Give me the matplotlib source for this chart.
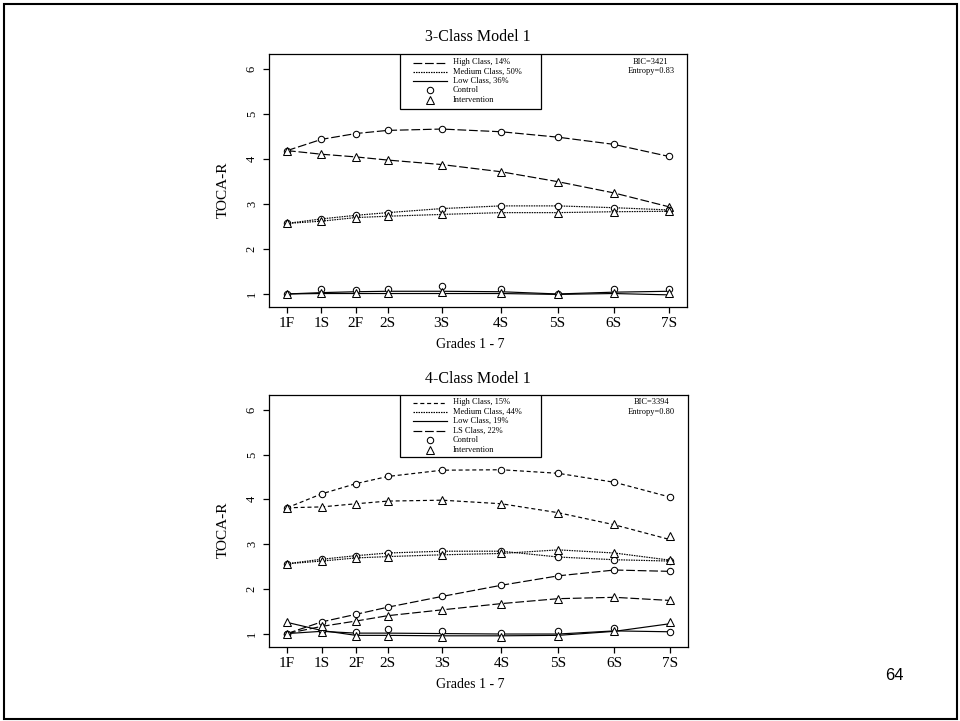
import matplotlib
matplotlib.use("Agg")
import matplotlib.pyplot as plt
from matplotlib.patches import Rectangle

plt.rcParams.update({
    "font.family": ["Liberation Serif", "DejaVu Serif"],
    "lines.scale_dashes": False,
    "axes.linewidth": 0.9,
})

W, H = 960, 721

grade_labels = ["1F", "1S", "2F", "2S", "3S", "4S", "5S", "6S", "7S"]
grade_pos = [1.0, 1.54, 2.08, 2.58, 3.43, 4.36, 5.25, 6.13, 7.0]
y_ticks = [1, 2, 3, 4, 5, 6]

# 3-class model
m3_high_ctrl = [4.18, 4.43, 4.56, 4.63, 4.66, 4.60, 4.48, 4.32, 4.05]
m3_high_int = [4.18, 4.10, 4.04, 3.97, 3.87, 3.71, 3.49, 3.24, 2.93]
m3_med_ctrl = [2.56, 2.66, 2.74, 2.80, 2.89, 2.95, 2.95, 2.91, 2.86]
m3_med_int = [2.56, 2.61, 2.69, 2.72, 2.76, 2.80, 2.80, 2.82, 2.83]
m3_low_ctrl_line = [0.99, 1.02, 1.04, 1.05, 1.05, 1.04, 0.99, 1.03, 1.05]
m3_low_int_line = [0.99, 1.00, 1.00, 1.00, 1.00, 1.00, 0.98, 1.00, 0.97]
m3_low_ctrl_obs = [1.00, 1.09, 1.08, 1.11, 1.17, 1.09, 1.00, 1.09, 1.09]
m3_low_int_obs = [1.00, 1.01, 1.02, 1.01, 1.03, 1.01, 0.99, 1.01, 1.01]

# 4-class model
m4_high_ctrl = [3.81, 4.12, 4.35, 4.51, 4.65, 4.66, 4.58, 4.38, 4.05]
m4_high_int_line = [3.81, 3.83, 3.90, 3.96, 3.98, 3.90, 3.70, 3.43, 3.10]
m4_high_int_obs = [3.81, 3.83, 3.90, 3.96, 3.98, 3.90, 3.70, 3.44, 3.17]
m4_med_ctrl = [2.56, 2.66, 2.74, 2.80, 2.84, 2.84, 2.71, 2.65, 2.62]
m4_med_int = [2.56, 2.62, 2.69, 2.72, 2.76, 2.79, 2.87, 2.80, 2.64]
m4_low_ctrl_line = [1.00, 1.05, 1.01, 1.01, 1.00, 0.99, 0.99, 1.06, 1.04]
m4_low_int_line = [1.25, 1.07, 0.96, 0.96, 0.95, 0.95, 0.96, 1.05, 1.22]
m4_low_ctrl_obs = [1.00, 1.05, 1.04, 1.10, 1.05, 1.01, 1.05, 1.12, 1.04]
m4_low_int_obs = [1.25, 1.04, 0.95, 0.94, 0.92, 0.93, 0.95, 1.06, 1.25]
m4_ls_ctrl = [1.00, 1.26, 1.43, 1.59, 1.83, 2.08, 2.29, 2.42, 2.39]
m4_ls_int = [1.00, 1.16, 1.28, 1.40, 1.53, 1.67, 1.78, 1.81, 1.74]

LONGDASH = (0, (6.3, 2.0))
DASHED = (0, (2.9, 2.0))
DOTTED = (0, (1.1, 0.7))
SOLID = "-"

MK = dict(color="black", markerfacecolor="white", markeredgecolor="black",
          markeredgewidth=0.75)


def fig_xy(px, py):
    return px / W, 1 - py / H


def add_axes(box):
    l, t, r, b = box
    return plt.gcf().add_axes([l / W, 1 - b / H, (r - l) / W, (b - t) / H])


def draw_series(ax, line_vals, obs_vals, ls, marker, ms):
    ax.plot(grade_pos, line_vals, ls=ls, color="black", lw=0.85, zorder=2)
    ax.plot(grade_pos, obs_vals, ls="none", marker=marker, markersize=ms, zorder=3, **MK)


def draw_legend(ax, box, leg_bottom, rows, row_y):
    l, t, r, b = box
    ax_x = lambda px: (px - l) / (r - l)
    ax_y = lambda py: (b - py) / (b - t)
    ax.add_patch(Rectangle((ax_x(400), ax_y(leg_bottom)), ax_x(541) - ax_x(400),
                           ax_y(t) - ax_y(leg_bottom), transform=ax.transAxes,
                           facecolor="white", edgecolor="black", lw=0.9, zorder=5))
    for (label, ls, marker, ms), py in zip(rows, row_y):
        y = ax_y(py)
        if ls is not None:
            ax.plot([ax_x(413), ax_x(447)], [y, y], transform=ax.transAxes,
                    ls=ls, color="black", lw=0.85, zorder=6, clip_on=False)
        else:
            ax.plot([ax_x(430)], [y], transform=ax.transAxes, ls="none",
                    marker=marker, markersize=ms, zorder=6, clip_on=False, **MK)
        ax.text(ax_x(453), y, label, transform=ax.transAxes, fontsize=6,
                ha="left", va="center", zorder=7)


def style_axes(ax):
    ax.set_xlim(0.717, 7.283)
    ax.set_ylim(0.70, 6.33)
    ax.set_xticks(grade_pos, grade_labels)
    ax.set_yticks(y_ticks, [str(v) for v in y_ticks])
    ax.tick_params(axis="x", direction="out", length=4, width=0.9, labelsize=11, pad=3)
    ax.tick_params(axis="y", direction="out", length=4, width=0.9, labelsize=9, pad=4,
                   labelrotation=90)
    for lab in ax.get_yticklabels():
        lab.set_va("center")
    for sp in ax.spines.values():
        sp.set_color("black")


fig = plt.figure(figsize=(9.6, 7.21), dpi=100)

# ---- 3-class panel
box3 = (269, 54, 687, 307)
ax1 = add_axes(box3)
draw_series(ax1, m3_high_ctrl, m3_high_ctrl, LONGDASH, "o", 4.6)
draw_series(ax1, m3_high_int, m3_high_int, LONGDASH, "^", 5.6)
draw_series(ax1, m3_med_ctrl, m3_med_ctrl, DOTTED, "o", 4.6)
draw_series(ax1, m3_med_int, m3_med_int, DOTTED, "^", 5.6)
draw_series(ax1, m3_low_ctrl_line, m3_low_ctrl_obs, SOLID, "o", 4.6)
draw_series(ax1, m3_low_int_line, m3_low_int_obs, SOLID, "^", 5.6)
style_axes(ax1)
draw_legend(ax1, box3, 109, [
    ("High Class, 14%", LONGDASH, None, 0),
    ("Medium Class, 50%", DOTTED, None, 0),
    ("Low Class, 36%", SOLID, None, 0),
    ("Control", None, "o", 4.6),
    ("Intervention", None, "^", 5.6),
], [62.5, 71.5, 81, 90, 99.5])
fig.text(*fig_xy(651, 62.3), "BIC=3421", fontsize=6, ha="center", va="center")
fig.text(*fig_xy(651, 71), "Entropy=0.83", fontsize=6, ha="center", va="center")
fig.text(*fig_xy(478, 37), "3-Class Model 1", fontsize=11.5, ha="center", va="center")
fig.text(*fig_xy(470.7, 344), "Grades 1 - 7", fontsize=10, ha="center", va="center")
fig.text(*fig_xy(223.3, 190), "TOCA-R", fontsize=11, ha="center", va="center", rotation=90)

# ---- 4-class panel
box4 = (269, 395, 688, 647)
ax2 = add_axes(box4)
draw_series(ax2, m4_high_ctrl, m4_high_ctrl, DASHED, "o", 4.6)
draw_series(ax2, m4_high_int_line, m4_high_int_obs, DASHED, "^", 5.6)
draw_series(ax2, m4_med_ctrl, m4_med_ctrl, DOTTED, "o", 4.6)
draw_series(ax2, m4_med_int, m4_med_int, DOTTED, "^", 5.6)
draw_series(ax2, m4_low_ctrl_line, m4_low_ctrl_obs, SOLID, "o", 4.6)
draw_series(ax2, m4_low_int_line, m4_low_int_obs, SOLID, "^", 5.6)
draw_series(ax2, m4_ls_ctrl, m4_ls_ctrl, LONGDASH, "o", 4.6)
draw_series(ax2, m4_ls_int, m4_ls_int, LONGDASH, "^", 5.6)
style_axes(ax2)
draw_legend(ax2, box4, 457, [
    ("High Class, 15%", DASHED, None, 0),
    ("Medium Class, 44%", DOTTED, None, 0),
    ("Low Class, 19%", SOLID, None, 0),
    ("LS Class, 22%", LONGDASH, None, 0),
    ("Control", None, "o", 4.6),
    ("Intervention", None, "^", 5.6),
], [402.5, 411.5, 421, 430.5, 440, 449.5])
fig.text(*fig_xy(651.7, 402.3), "BIC=3394", fontsize=6, ha="center", va="center")
fig.text(*fig_xy(651.7, 411.7), "Entropy=0.80", fontsize=6, ha="center", va="center")
fig.text(*fig_xy(478, 379), "4-Class Model 1", fontsize=11.5, ha="center", va="center")
fig.text(*fig_xy(470.7, 685), "Grades 1 - 7", fontsize=10, ha="center", va="center")
fig.text(*fig_xy(223.3, 530), "TOCA-R", fontsize=11, ha="center", va="center", rotation=90)

# slide page number and frame
fig.text(*fig_xy(894, 676), "64", fontsize=12, ha="center", va="center",
         family=["Liberation Sans", "DejaVu Sans"])
fig.patches.append(Rectangle((4 / W, 1 - 719 / H), 953 / W, 715 / H,
                             transform=fig.transFigure, fill=False,
                             edgecolor="black", lw=1.5))

fig.savefig("out.png", dpi=100)
